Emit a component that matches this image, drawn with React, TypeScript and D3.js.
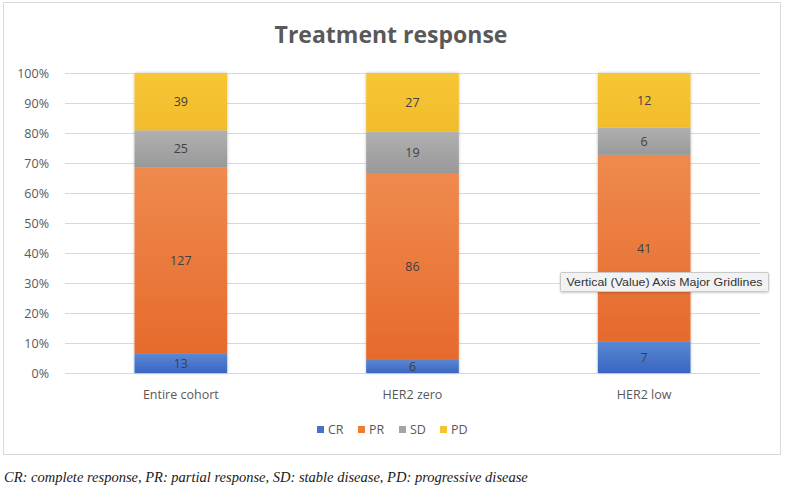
import React from "react";
import * as d3 from "d3";

const categories = ["Entire cohort", "HER2 zero", "HER2 low"];
const seriesNames = ["CR", "PR", "SD", "PD"];
const CR = [13, 6, 7];
const PR = [127, 86, 41];
const SD = [25, 19, 6];
const PD = [39, 27, 12];
const yTicks = [0, 0.1, 0.2, 0.3, 0.4, 0.5, 0.6, 0.7, 0.8, 0.9, 1];
const colors = ["#4472C4", "#ED7D31", "#A5A5A5", "#F5C231"];
const gradTop = ["#5B87D2", "#EF8A4E", "#B0B0B0", "#F7C634"];
const gradBottom = ["#3866C2", "#E66A2C", "#999999", "#F1BC2C"];
const title = "Treatment response";
const caption = "CR: complete response, PR: partial response, SD: stable disease, PD: progressive disease";
const tooltip = "Vertical (Value) Axis Major Gridlines";

export default function App() {
  const W = 790, H = 489;
  const left = 65, right = 760, top = 73, bottom = 373;
  const x = d3.scaleBand().domain(categories).range([left, right]).paddingInner(0.6).paddingOuter(0.3);
  const y = d3.scaleLinear().domain([0, 1]).range([bottom, top]);
  const rows = categories.map((c, i) => ({ cat: c, CR: CR[i], PR: PR[i], SD: SD[i], PD: PD[i] }));
  const stack = d3.stack<any>().keys(seriesNames).offset(d3.stackOffsetExpand);
  const layers = stack(rows);
  const font = "'Open Sans', Lato, sans-serif";
  const legendX = [317, 358, 399, 440];

  return (
    <svg width={W} height={H} style={{ position: "absolute", left: 0, top: 0, background: "#fff" }}>
      <defs>
        {colors.map((c, i) => (
          <linearGradient key={i} id={`g${i}`} x1="0" y1="0" x2="0" y2="1">
            <stop offset="0" stopColor={gradTop[i]} />
            <stop offset="1" stopColor={gradBottom[i]} />
          </linearGradient>
        ))}
        <filter id="sh" x="-20%" y="-5%" width="140%" height="115%">
          <feDropShadow dx="0" dy="0" stdDeviation="1.5" floodColor="#000" floodOpacity="0.25" />
        </filter>
        <filter id="tsh" x="-10%" y="-30%" width="120%" height="170%">
          <feDropShadow dx="0" dy="1" stdDeviation="1" floodColor="#000" floodOpacity="0.2" />
        </filter>
      </defs>
      <rect x={3.5} y={2.5} width={777} height={452} fill="#fff" stroke="#d9d9d9" strokeWidth={1} />
      <text x={391} y={43} textAnchor="middle" fontFamily={font} fontWeight={700} fontSize={23} fill="#595959">{title}</text>
      {yTicks.map((t) => (
        <g key={t}>
          <line x1={left} x2={right} y1={y(t) + 0.5} y2={y(t) + 0.5} stroke="#d9d9d9" strokeWidth={1} />
          <text x={49} y={y(t) + 4.5} textAnchor="end" fontFamily={font} fontSize={12.5} fill="#595959">{d3.format(".0%")(t)}</text>
        </g>
      ))}
      <g filter="url(#sh)">
        {layers.map((layer, li) =>
          layer.map((d, i) => (
            <rect key={`${li}-${i}`} x={x(categories[i])} width={x.bandwidth()} y={y(d[1])} height={y(d[0]) - y(d[1])} fill={`url(#g${li})`} />
          ))
        )}
      </g>
      {layers.map((layer, li) =>
        layer.map((d, i) => (
          <text key={`t${li}-${i}`} x={x(categories[i])! + x.bandwidth() / 2} y={(y(d[0]) + y(d[1])) / 2 + 4.5} textAnchor="middle" fontFamily={font} fontSize={12.5} fill="#404040">
            {(rows[i] as any)[seriesNames[li]]}
          </text>
        ))
      )}
      {categories.map((c) => (
        <text key={c} x={x(c)! + x.bandwidth() / 2} y={399} textAnchor="middle" fontFamily={font} fontSize={12.5} fill="#595959">{c}</text>
      ))}
      {seriesNames.map((s, i) => (
        <g key={s}>
          <rect x={legendX[i]} y={426} width={7} height={7} fill={colors[i]} />
          <text x={legendX[i] + 11} y={434} fontFamily={font} fontSize={12.5} fill="#595959">{s}</text>
        </g>
      ))}
      <g filter="url(#tsh)">
        <rect x={560.5} y={272.5} width={208} height={19} fill="#f2f2f2" stroke="#c8c8c8" strokeWidth={1} rx={1} />
      </g>
      <text x={664.5} y={286} textAnchor="middle" fontFamily="'Liberation Sans', Arial, sans-serif" fontSize={11.5} fill="#333" textLength={196} lengthAdjust="spacingAndGlyphs">{tooltip}</text>
      <text x={4} y={482} fontFamily="'Liberation Serif', 'Times New Roman', serif" fontStyle="italic" fontSize={14.5} fill="#1a1a1a">{caption}</text>
    </svg>
  );
}
